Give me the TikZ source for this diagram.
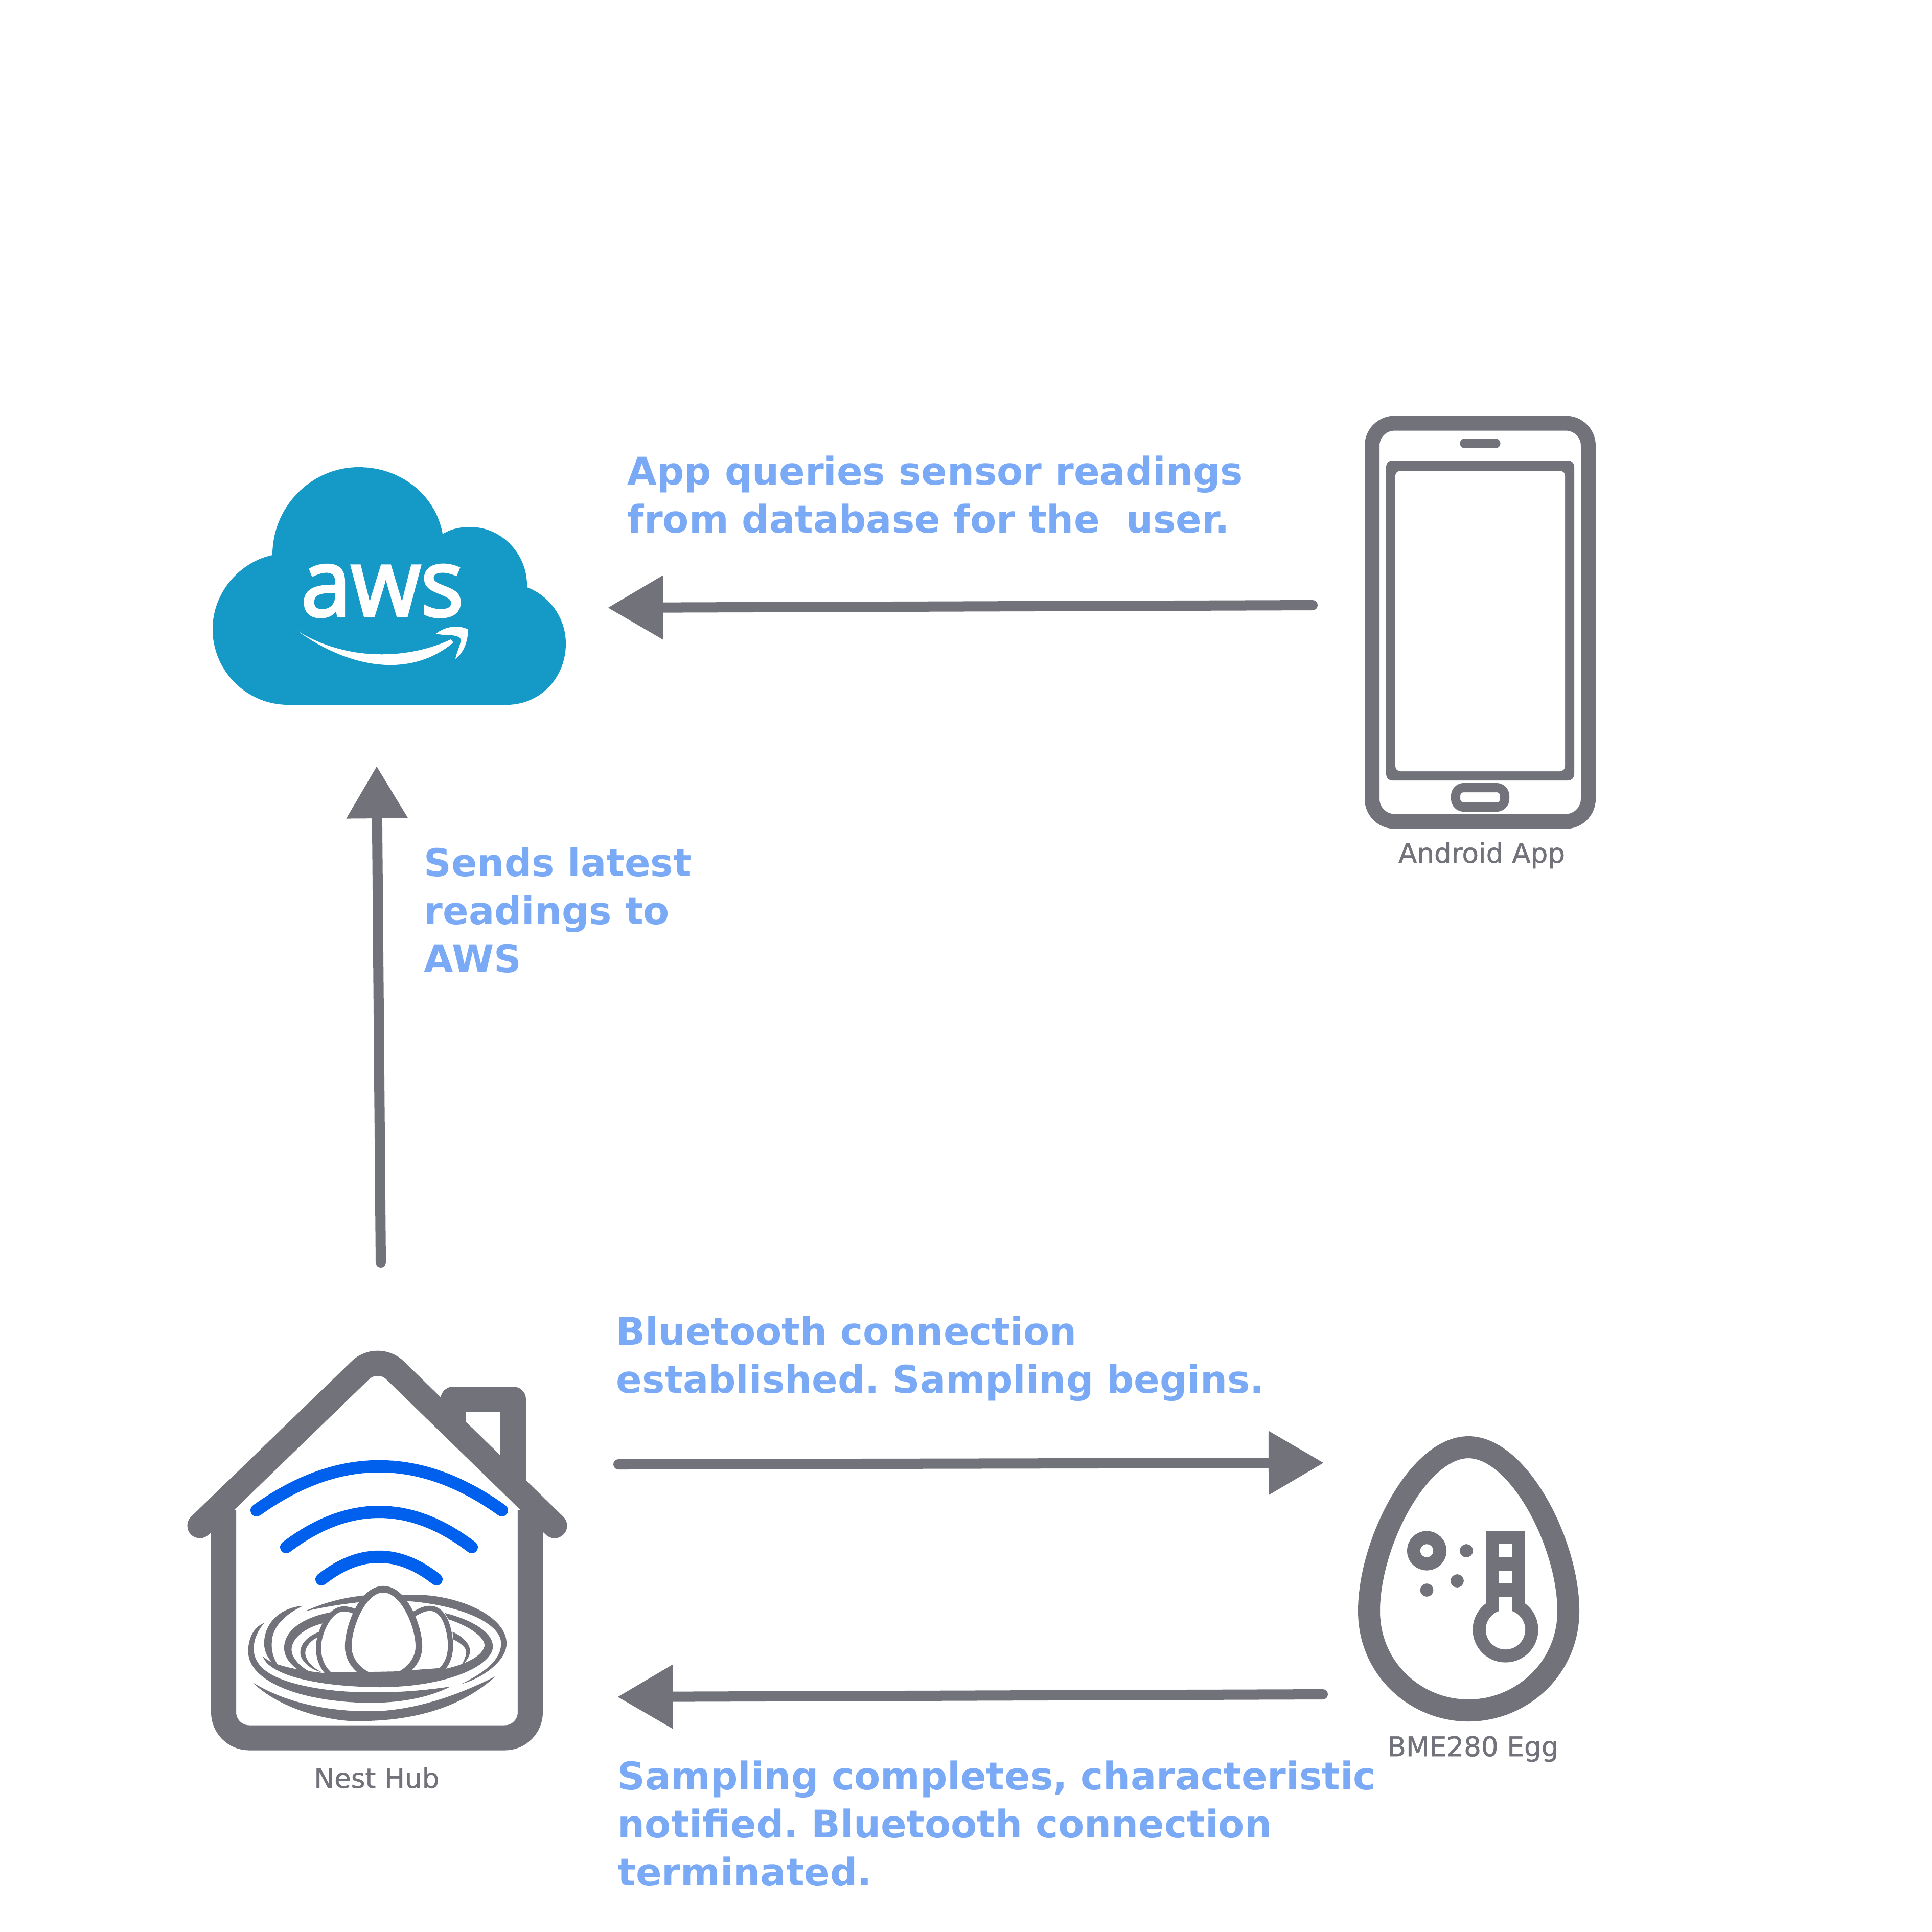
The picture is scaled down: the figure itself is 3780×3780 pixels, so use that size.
\documentclass[tikz,border=0pt]{standalone}
\usepackage{xcolor}
\usepackage{fontspec}
\setmainfont{DejaVu Sans}
\newfontfamily\labelfont[FakeBold=1]{DejaVu Sans}
\newfontfamily\awsfont[FakeBold=3]{Open Sans}
\usetikzlibrary{
		arrows.meta,
		positioning
	}
\definecolor{icongray}{HTML}{71727A}
\definecolor{msgblue}{HTML}{7AA9F5}
\definecolor{wifiblue}{HTML}{0060EE}
\definecolor{awsblue}{HTML}{1599C6}
\tikzset{
		>={Triangle[length=1.08cm,width=1.2cm]},
		flowarrow/.style={->,icongray,line width=0.2cm,line cap=round},
		msgtext/.style={msgblue,inner sep=0pt,anchor=base west,align=left,font=\frenchspacing\fontsize{21.2}{26.6}\selectfont\bfseries},
		icontext/.style={icongray,inner sep=0pt,anchor=base,font=\labelfont\fontsize{15.1}{18}\selectfont},
		housestroke/.style={icongray,line width=0.49cm,line cap=round,line join=round},
		wifiarc/.style={wifiblue,line width=0.24cm,line cap=round},
		eggline/.style={icongray,fill=white}
	}

\begin{document}
\begin{tikzpicture}[x=0.01cm,y=-0.01cm]
          \useasboundingbox (0,0) rectangle (3780,3780);

          % arrow ends
          \coordinate (AppStart) at (2568,1184);
          \coordinate (AppEnd) at (1189,1189);
          \coordinate (HubStart) at (745,2470);
          \coordinate (HubEnd) at (737,1499);
          \coordinate (ConnStart) at (1210,2865);
          \coordinate (ConnEnd) at (2590,2862);
          \coordinate (DoneStart) at (2588,3315);
          \coordinate (DoneEnd) at (1208,3320);

          \draw[flowarrow] (AppStart) -- (AppEnd);
          \draw[flowarrow,>={Triangle[length=1.02cm,width=1.15cm]}] (HubStart) -- (HubEnd);
          \draw[flowarrow] (ConnStart) -- (ConnEnd);
          \draw[flowarrow] (DoneStart) -- (DoneEnd);

          % messages, placed by their last line
          \node[msgtext] (appmsg) at (1227,1042) {App queries sensor readings\\from database for the\ \ user.};
          \node[msgtext] (hubmsg) at (829,1902) {Sends latest\\readings to\\AWS};
          \node[msgtext] (connmsg) at (1205,2725) {Bluetooth connection\\established. Sampling begins.};
          \node[msgtext] (donemsg) at (1208,3689) {Sampling completes, characteristic\\notified. Bluetooth connection\\terminated.};

          % cloud
          \fill[awsblue] (564,1379) .. controls (482,1379) and (416,1312) .. (416,1231)
            .. controls (416,1160) and (468,1100) .. (533,1086)
            .. controls (533,990) and (610,914) .. (702,914)
            .. controls (785,914) and (853,970) .. (866,1045)
            .. controls (882,1035) and (900,1031) .. (920,1031)
            .. controls (982,1031) and (1033,1085) .. (1031,1149)
            .. controls (1076,1166) and (1107,1210) .. (1107,1259)
            .. controls (1107,1326) and (1057,1379) .. (991,1379) -- cycle;
          \node[white,inner sep=0pt,anchor=base,xscale=0.96,font=\awsfont\fontsize{52}{52}\selectfont] (awslogo) at (748,1205) {aws};
          \fill[white] (583,1235) .. controls (680,1305) and (800,1330) .. (887,1257)
            -- (882,1251) .. controls (800,1290) and (680,1295) .. (583,1235) -- cycle;
          \fill[white] (853,1240) .. controls (870,1226) and (895,1222) .. (915,1231)
            .. controls (917,1255) and (905,1280) .. (891,1289)
            .. controls (895,1270) and (905,1255) .. (900,1248)
            .. controls (890,1240) and (870,1244) .. (853,1240) -- cycle;

          % phone
          \draw[icongray,line width=0.29cm,rounded corners=0.44cm] (2684.5,828) rectangle (3107.5,1607);
          \fill[icongray,rounded corners=0.12cm] (2712,901) rectangle (3080,1527);
          \fill[white,rounded corners=0.1cm] (2730,921) rectangle (3062,1509);
          \draw[icongray,line width=0.19cm,line cap=round] (2866,867.5) -- (2926,867.5);
          \draw[icongray,line width=0.18cm,rounded corners=0.16cm] (2848,1541) rectangle (2944,1579);
          \node[icontext] (applabel) at (2899,1688) {Android App};

          % egg
          \draw[icongray,line width=0.43cm] (2873,2831.5) .. controls (2775,2831.5) and (2678.5,3020) .. (2678.5,3152)
            .. controls (2678.5,3265) and (2770,3346.5) .. (2873,3346.5)
            .. controls (2976,3346.5) and (3068.5,3265) .. (3068.5,3152)
            .. controls (3068.5,3020) and (2971,2831.5) .. (2873,2831.5) -- cycle;
          \draw[icongray,line width=0.257cm] (2791.5,3034) circle (25.7);
          \fill[icongray] (2869,3034) circle (12.9);
          \fill[icongray] (2851,3093) circle (12.9);
          \fill[icongray] (2791.5,3111) circle (12.9);
          \fill[icongray] (2907,2995) rectangle (2984,3160);
          \fill[icongray] (2945.5,3188.5) circle (64);
          \fill[white] (2933,3021) rectangle (2958.5,3047);
          \fill[white] (2933,3072.5) rectangle (2958.5,3098);
          \fill[white] (2933,3124) rectangle (2958.5,3170);
          \fill[white] (2945.5,3188.5) circle (38.6);
          \node[icontext] (egglabel) at (2882,3436) {BME280 Egg};

          % house
          \draw[housestroke,rounded corners=0.47cm] (391,2985) -- (739,2648) -- (1085,2985);
          \draw[housestroke,line cap=butt,rounded corners=0.5cm] (437.5,2955) -- (437.5,3400) -- (1037.5,3400) -- (1037.5,2955);
          \draw[housestroke,line cap=butt] (887,2791) -- (887,2737) -- (1004,2737) -- (1004,2904);
          \node[icontext] (hublabel) at (737,3498) {Nest Hub};

          % wifi
          \draw[wifiarc] (502,2955) .. controls (662,2840) and (822,2840) .. (982,2955);
          \draw[wifiarc] (560,3027) .. controls (681,2935) and (803,2935) .. (923,3027);
          \draw[wifiarc] (629,3090) .. controls (704,3031) and (779,3031) .. (854,3090);

          % nest
          \begin{scope}[shift={(340,2600)},x=0.005356cm,y=-0.006124cm]
            \fill[icongray] (330,940) .. controls (285,955) and (270,1000) .. (272,1035)
              .. controls (275,1100) and (370,1150) .. (500,1175) .. controls (620,1198) and (850,1215) .. (1010,1143)
              .. controls (850,1165) and (650,1170) .. (500,1145) .. controls (380,1125) and (290,1090) .. (292,1020)
              .. controls (292,990) and (310,960) .. (330,940) -- cycle;
            \fill[icongray] (288,1130) .. controls (400,1225) and (600,1260) .. (700,1253)
              .. controls (880,1250) and (1050,1210) .. (1175,1110) .. controls (1020,1180) and (850,1225) .. (700,1222)
              .. controls (540,1220) and (400,1190) .. (288,1130) -- cycle;
            \fill[icongray] (480,902) .. controls (560,870) and (640,855) .. (720,850) -- (900,850)
              .. controls (1050,855) and (1215,920) .. (1215,1005) .. controls (1215,1060) and (1130,1115) .. (1050,1135)
              .. controls (1130,1100) and (1195,1060) .. (1195,1005) .. controls (1195,930) and (1000,870) .. (800,868)
              .. controls (680,868) and (570,885) .. (480,902) -- cycle;
            \fill[icongray] (472,885) .. controls (390,890) and (330,940) .. (330,1005)
              .. controls (330,1040) and (355,1070) .. (390,1085) .. controls (365,1060) and (355,1030) .. (358,1000)
              .. controls (360,950) and (410,910) .. (472,885) -- cycle;
            \fill[icongray] (325,1045) .. controls (340,1100) and (500,1143) .. (750,1145)
              .. controls (1000,1145) and (1165,1075) .. (1165,1015) .. controls (1165,970) and (1090,930) .. (990,908)
              -- (1003,928) .. controls (1080,950) and (1135,985) .. (1135,1012)
              .. controls (1125,1060) and (1000,1105) .. (750,1108) .. controls (550,1108) and (360,1085) .. (325,1045) -- cycle;
            \fill[icongray] (577,905) .. controls (480,920) and (403,960) .. (403,1020)
              .. controls (403,1055) and (440,1085) .. (470,1097) -- (500,1097)
              .. controls (460,1080) and (430,1050) .. (430,1025) .. controls (430,985) and (490,950) .. (550,940) -- cycle;
            \fill[icongray] (540,965) .. controls (490,980) and (462,1005) .. (462,1035)
              .. controls (462,1060) and (500,1090) .. (540,1097) .. controls (510,1085) and (480,1060) .. (480,1035)
              .. controls (480,1015) and (505,990) .. (530,985) -- cycle;
            \fill[icongray] (1018,968) .. controls (1060,985) and (1082,1010) .. (1082,1030)
              .. controls (1080,1050) and (1065,1065) .. (1050,1075) .. controls (1060,1060) and (1068,1045) .. (1068,1030)
              .. controls (1065,1015) and (1040,1000) .. (1020,992) -- cycle;
            \draw[eggline,line width=0.1cm] (570,1105) .. controls (530,1075) and (525,1030) .. (530,1000)
              .. controls (540,950) and (575,895) .. (620,895) .. controls (650,895) and (670,905) .. (690,925) -- (690,1105) -- cycle;
            \draw[eggline,line width=0.1cm] (975,1092) .. controls (1005,1065) and (1012,1035) .. (1010,1000)
              .. controls (1005,950) and (985,893) .. (935,893) .. controls (910,893) and (890,905) .. (850,925) -- (850,1100) -- cycle;
            \draw[eggline,line width=0.13cm] (708,1107) .. controls (660,1085) and (637,1050) .. (637,1015)
              .. controls (637,950) and (690,832) .. (765,832) .. controls (840,832) and (895,950) .. (895,1015)
              .. controls (895,1050) and (870,1085) .. (826,1105) -- cycle;
          \end{scope}
\end{tikzpicture}
\end{document}
